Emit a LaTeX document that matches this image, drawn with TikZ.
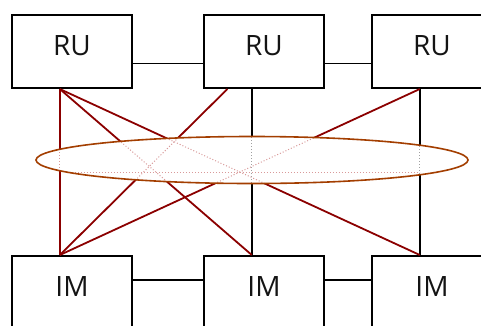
\documentclass[tikz,border=0pt]{standalone}
\usepackage{fontspec}
\setmainfont{Open Sans}
\usetikzlibrary{calc}
\definecolor{my_darkred}{HTML}{8B0000}
\definecolor{my_rust}{HTML}{A33E00}
\definecolor{my_lightred}{HTML}{D99A9A}
\definecolor{my_lightgray}{HTML}{A0A0A0}

\begin{document}
\begin{tikzpicture}[
    x=1pt, y=-1pt,
    unitbox/.style={draw=black, line width=2pt, minimum width=120pt, minimum height=73pt,
        inner sep=0pt, text depth=12pt, font=\fontsize{28}{30}\selectfont, text=black!92},
    linkline/.style={black, line width=1.8pt},
    crossline/.style={my_darkred, line width=1.8pt},
    faintline/.style={dotted, line width=1pt}
]

% Canvas: 1pt = 1px of the 481 x 325 reference
\clip (0,0) rectangle (481,325);

% Unit boxes (top row RU, bottom row IM)
\node[unitbox] (ru1) at (72,51.5)  {RU};
\node[unitbox] (ru2) at (264,51.5) {RU};
\node[unitbox] (ru3) at (432,51.5) {RU};
\node[unitbox] (im1) at (72,292.5)  {IM};
\node[unitbox] (im2) at (264,292.5) {IM};
\node[unitbox] (im3) at (432,292.5) {IM};

% Attachment points along the box edges
\coordinate (ru1s) at ($(ru1.south west)!.4!(ru1.south east)$);
\coordinate (ru2a) at ($(ru2.south west)!.2!(ru2.south east)$);
\coordinate (ru2s) at ($(ru2.south west)!.4!(ru2.south east)$);
\coordinate (ru3s) at ($(ru3.south west)!.4!(ru3.south east)$);
\coordinate (im1n) at ($(im1.north west)!.4!(im1.north east)$);
\coordinate (im2n) at ($(im2.north west)!.4!(im2.north east)$);
\coordinate (im3n) at ($(im3.north west)!.4!(im3.north east)$);

% Horizontal links within each row
\draw[linkline] ($(ru1.north east)!.66!(ru1.south east)$) -- ($(ru2.north west)!.66!(ru2.south west)$);
\draw[linkline] ($(ru2.north east)!.66!(ru2.south east)$) -- ($(ru3.north west)!.66!(ru3.south west)$);
\draw[linkline] ($(im1.north east)!.33!(im1.south east)$) -- ($(im2.north west)!.33!(im2.south west)$);
\draw[linkline] ($(im2.north east)!.33!(im2.south east)$) -- ($(im3.north west)!.33!(im3.south west)$);

% Vertical links and crossing links
\draw[linkline] (ru2s) -- (im2n);
\draw[linkline] (ru3s) -- (im3n);
\draw[crossline] (ru1s) -- (im1n);
\draw[crossline] (ru1s) -- (im2n);
\draw[crossline] (ru1s) -- (im3n);
\draw[crossline] (ru2a) -- (im1n);
\draw[crossline] (ru3s) -- (im1n);

% Ellipse covering the middle band, lines show faintly through it
\fill[white] (252,160) ellipse (216 and 23.5);
\begin{scope}
    \clip (252,160) ellipse (216 and 23.5);
    \draw[faintline, my_lightgray] (ru2s) -- (im2n);
    \draw[faintline, my_lightgray] (ru3s) -- (im3n);
    \draw[faintline, my_lightred] (ru1s) -- (im1n);
    \draw[faintline, my_lightred] (ru1s) -- (im2n);
    \draw[faintline, my_lightred] (ru1s) -- (im3n);
    \draw[faintline, my_lightred] (ru2a) -- (im1n);
    \draw[faintline, my_lightred] (ru3s) -- (im1n);
    \draw[faintline, my_lightred] ($(ru1s)!.5!(im1n)$) -- ($(ru3s)!.5!(im3n)$);
\end{scope}
\draw[my_rust, line width=1.6pt] (252,160) ellipse (216 and 23.5);

\end{tikzpicture}
\end{document}
